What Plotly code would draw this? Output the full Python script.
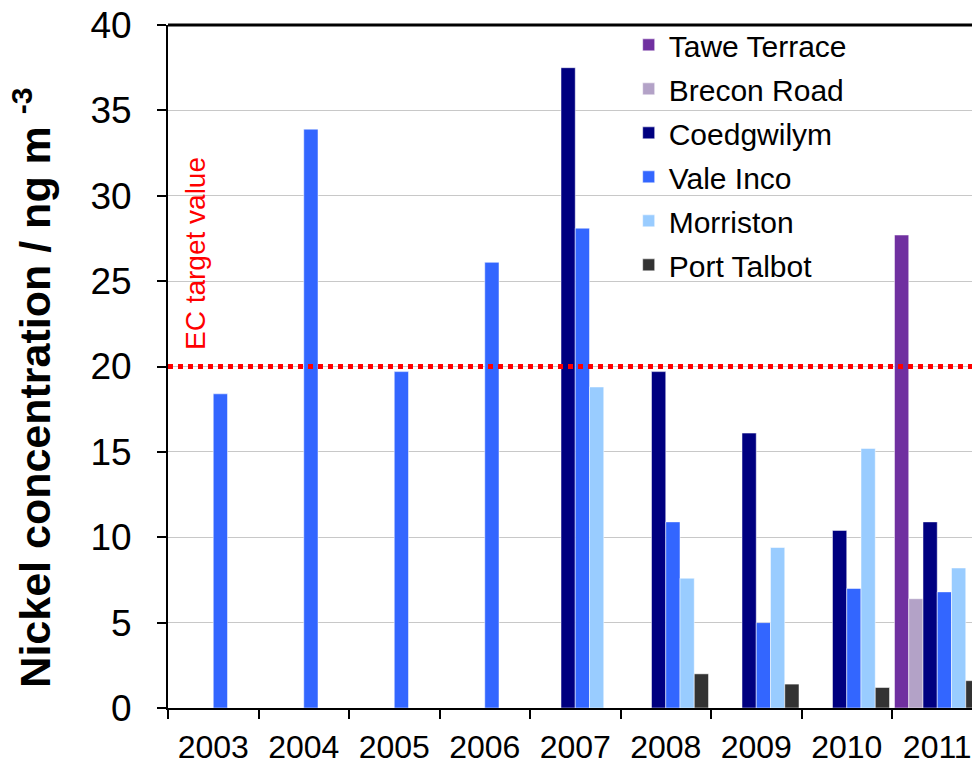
import plotly.graph_objects as go

years = ["2003", "2004", "2005", "2006", "2007", "2008", "2009", "2010", "2011"]
tawe_terrace = [None, None, None, None, None, None, None, None, 27.7]
brecon_road = [None, None, None, None, None, None, None, None, 6.4]
coedgwilym = [None, None, None, None, 37.5, 19.7, 16.1, 10.4, 10.9]
vale_inco = [18.4, 33.9, 19.7, 26.1, 28.1, 10.9, 5.0, 7.0, 6.8]
morriston = [None, None, None, None, 18.8, 7.6, 9.4, 15.2, 8.2]
port_talbot = [None, None, None, None, None, 2.0, 1.4, 1.2, 1.6]
ec_target = 20

series = [
    ("Tawe Terrace", tawe_terrace, "#7030A0"),
    ("Brecon Road", brecon_road, "#B3A2C7"),
    ("Coedgwilym", coedgwilym, "#000080"),
    ("Vale Inco", vale_inco, "#3366FF"),
    ("Morriston", morriston, "#99CCFF"),
    ("Port Talbot", port_talbot, "#333333"),
]

FONT = "Arial, Liberation Sans, sans-serif"

fig = go.Figure()
for i, (name, vals, col) in enumerate(series):
    fig.add_trace(go.Bar(
        x=years, y=vals, name=name, legendgroup=str(i),
        marker=dict(color=col, line=dict(color="rgba(255,255,255,0.5)", width=1)),
    ))

# EC target value line
fig.add_shape(type="line", xref="paper", x0=0, x1=1, yref="y", y0=ec_target, y1=ec_target,
              line=dict(color="#FF0000", width=5, dash="dot"), layer="above")
fig.add_annotation(text="EC target value", xref="paper", x=(195 - 168) / 804, yref="y", y=ec_target,
                   xanchor="center", yanchor="bottom", yshift=14, textangle=-90, showarrow=False,
                   font=dict(family=FONT, size=28, color="#FF0000"))

# thick frame line along the top of the plot area
fig.add_shape(type="line", xref="paper", x0=0, x1=1, yref="paper", y0=1, y1=1,
              line=dict(color="black", width=3), layer="above")

# y axis title placed by hand (it sits a little low in the original)
fig.add_annotation(text="<b>Nickel concentration / ng m <sup>-3</sup></b>", xref="paper", x=(32 - 168) / 804,
                   yref="paper", y=0.469, xanchor="center", yanchor="middle", textangle=-90,
                   showarrow=False, font=dict(family=FONT, size=43, color="black"))

fig.update_layout(
    width=972, height=765,
    margin=dict(l=168, r=0, t=25, b=55),
    barmode="group", bargap=0.055, bargroupgap=0,
    plot_bgcolor="white", paper_bgcolor="white",
    font=dict(family=FONT, color="black"),
    legend=dict(x=0.573, y=1.009, xanchor="left", yanchor="top", bgcolor="rgba(0,0,0,0)",
                font=dict(size=30), tracegroupgap=2, itemclick=False),
)
fig.update_xaxes(
    type="category", range=[-0.5, 8.384],
    showline=True, linecolor="black", linewidth=2,
    ticks="outside", tickson="boundaries", ticklen=9, tickwidth=2, tickcolor="black",
    tickfont=dict(size=32), ticklabelstandoff=10, showgrid=False,
)
fig.update_yaxes(
    range=[0, 40], dtick=5,
    showline=True, linecolor="black", linewidth=2,
    ticks="outside", ticklen=9, tickwidth=2, tickcolor="black",
    tickfont=dict(size=37), ticklabelstandoff=18,
    showgrid=True, gridcolor="#C8C8C8", gridwidth=1, zeroline=False,
)

# page body has an 8px default margin; drop it so the chart fills the window
fig.write_html("out.html", config={"displayModeBar": False},
               post_script="document.body.style.margin='0';")
